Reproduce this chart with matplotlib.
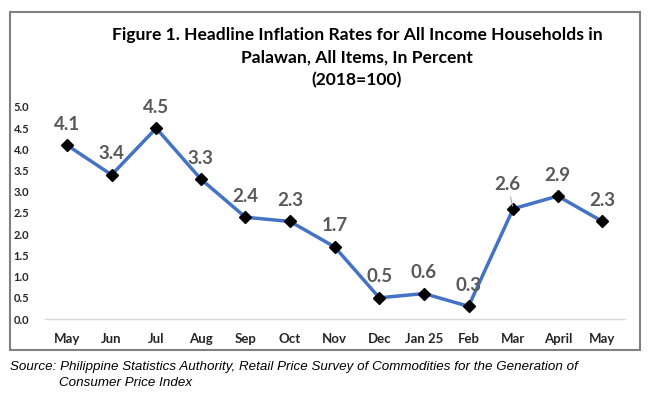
import matplotlib
matplotlib.use('Agg')
import matplotlib.pyplot as plt
from matplotlib.patches import Rectangle

months = ['May', 'Jun', 'Jul', 'Aug', 'Sep', 'Oct', 'Nov', 'Dec', 'Jan 25', 'Feb', 'Mar', 'April', 'May']
rates = [4.1, 3.4, 4.5, 3.3, 2.4, 2.3, 1.7, 0.5, 0.6, 0.3, 2.6, 2.9, 2.3]
yticks = [0.0, 0.5, 1.0, 1.5, 2.0, 2.5, 3.0, 3.5, 4.0, 4.5, 5.0]

W, H = 651, 395
fig = plt.figure(figsize=(W / 100, H / 100), dpi=100)

# outer frame around the chart
fig.patches.append(Rectangle((10 / W, 1 - 350 / H), 630 / W, 338 / H,
                             transform=fig.transFigure, fill=False,
                             edgecolor='#808080', linewidth=1.5))

ax = fig.add_axes([44.7 / W, 1 - 319 / H, 580 / W, 212 / H])
x = list(range(len(months)))
ax.plot(x, rates, color='#4472C4', linewidth=2.5, marker='D',
        markersize=6.5, markerfacecolor='black', markeredgecolor='black', zorder=3)

for i, v in enumerate(rates):
    if months[i] == 'Mar':
        # label nudged up-left with a small leader line
        ax.annotate(f'{v:.1f}', xy=(i, v), xytext=(-4, 11.5), textcoords='offset points',
                    ha='center', va='bottom', fontsize=13.5, fontweight='bold',
                    color='#595959', family='Lato',
                    arrowprops=dict(arrowstyle='-', color='#a6a6a6', lw=0.8,
                                    shrinkA=1, shrinkB=2))
    else:
        ax.annotate(f'{v:.1f}', xy=(i, v), xytext=(0, 9), textcoords='offset points',
                    ha='center', va='bottom', fontsize=13.5, fontweight='bold',
                    color='#595959', family='Lato')

ax.set_xlim(-0.5, len(months) - 0.5)
ax.set_ylim(0, 5.0)
ax.set_yticks(yticks)
ax.set_yticklabels([f'{t:.1f}' for t in yticks])
ax.set_xticks(x)
ax.set_xticklabels(months)
for lab in ax.get_xticklabels():
    lab.set_fontweight('bold')
    lab.set_fontsize(9.5)
    lab.set_family('Lato')
for lab in ax.get_yticklabels():
    lab.set_fontweight('bold')
    lab.set_fontsize(8)
    lab.set_family('Lato')
ax.tick_params(axis='both', length=0, colors='#262626')
ax.tick_params(axis='y', pad=11)
ax.tick_params(axis='x', pad=10)
for s in ['top', 'right', 'left']:
    ax.spines[s].set_visible(False)
ax.spines['bottom'].set_color('#d9d9d9')
ax.spines['bottom'].set_linewidth(1)

title_lines = ['Figure 1. Headline Inflation Rates for All Income Households in',
               'Palawan, All Items, In Percent', '(2018=100)']
for k, line in enumerate(title_lines):
    fig.text(357 / W, 1 - (35 + 22.5 * k) / H, line, ha='center', va='center',
             fontsize=12.6, fontweight='bold', family='Lato', color='black')

fig.text(10 / W, 1 - 367 / H,
         'Source: Philippine Statistics Authority, Retail Price Survey of Commodities for the Generation of',
         ha='left', va='center', fontsize=9.6, style='italic', family='Liberation Sans')
fig.text(59 / W, 1 - 383 / H, 'Consumer Price Index',
         ha='left', va='center', fontsize=9.6, style='italic', family='Liberation Sans')

fig.savefig('out.png', dpi=100)
